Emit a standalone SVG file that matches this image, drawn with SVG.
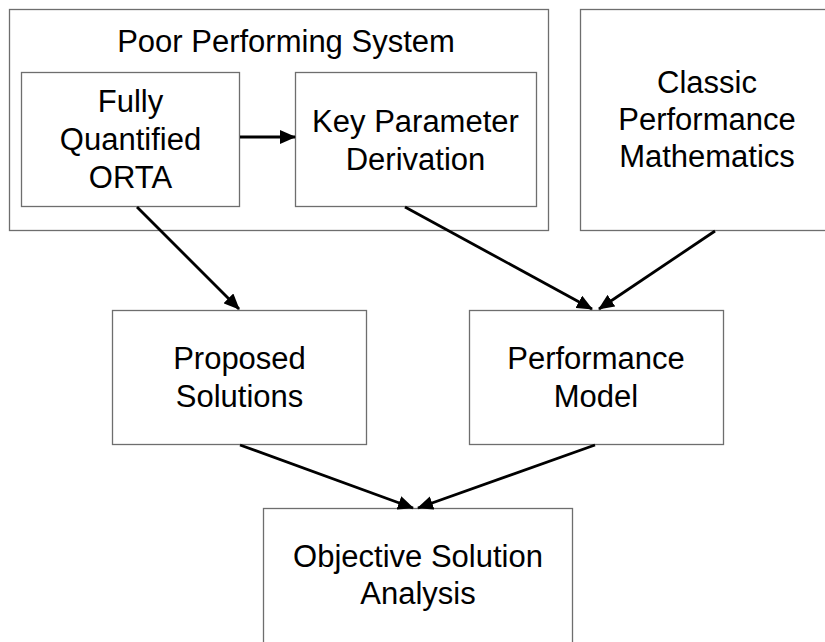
<svg xmlns="http://www.w3.org/2000/svg" width="825" height="642" viewBox="0 0 825 642">
  <style>
    .box { fill: #ffffff; stroke: #6e6e6e; stroke-width: 1.3; }
    .lbl { font-family: "Liberation Sans", Arial, sans-serif; font-size: 31px; fill: #000000; text-anchor: middle; }
    .conn { stroke: #000000; stroke-width: 2.8; fill: none; marker-end: url(#arrow); }
  </style>
  <defs>
    <marker id="arrow" viewBox="0 0 16 14" refX="15" refY="7" markerWidth="16" markerHeight="14" markerUnits="userSpaceOnUse" orient="auto">
      <path d="M0,0 L16,7 L0,14 z" fill="#000000"/>
    </marker>
  </defs>
  <rect width="825" height="642" fill="#ffffff"/>

  <g id="poor-performing-system">
    <rect class="box" x="9.5" y="9.5" width="539" height="221"/>
    <text class="lbl" x="286" y="52">Poor Performing System</text>
  </g>

  <g id="fully-quantified-orta">
    <rect class="box" x="21.5" y="72.5" width="218" height="134"/>
    <text class="lbl" x="130.5" y="112">Fully</text>
    <text class="lbl" x="130.5" y="150">Quantified</text>
    <text class="lbl" x="130.5" y="188">ORTA</text>
  </g>

  <g id="key-parameter-derivation">
    <rect class="box" x="295.5" y="72.5" width="241" height="134"/>
    <text class="lbl" x="415.5" y="132">Key Parameter</text>
    <text class="lbl" x="415.5" y="170">Derivation</text>
  </g>

  <g id="classic-performance-mathematics">
    <rect class="box" x="580.5" y="9.5" width="254" height="221"/>
    <text class="lbl" x="707" y="93">Classic</text>
    <text class="lbl" x="707" y="130">Performance</text>
    <text class="lbl" x="707" y="167">Mathematics</text>
  </g>

  <g id="proposed-solutions">
    <rect class="box" x="112.5" y="310.5" width="254" height="134"/>
    <text class="lbl" x="239.5" y="369">Proposed</text>
    <text class="lbl" x="239.5" y="407">Solutions</text>
  </g>

  <g id="performance-model">
    <rect class="box" x="469.5" y="310.5" width="254" height="134"/>
    <text class="lbl" x="596" y="369">Performance</text>
    <text class="lbl" x="596" y="407">Model</text>
  </g>

  <g id="objective-solution-analysis">
    <rect class="box" x="263.5" y="508.5" width="309" height="150"/>
    <text class="lbl" x="418" y="567">Objective Solution</text>
    <text class="lbl" x="418" y="604">Analysis</text>
  </g>

  <g id="connectors">
    <line class="conn" x1="240" y1="137" x2="295" y2="137"/>
    <line class="conn" x1="137" y1="207" x2="239" y2="309"/>
    <line class="conn" x1="405" y1="207" x2="592" y2="309"/>
    <line class="conn" x1="715" y1="231" x2="599" y2="309"/>
    <line class="conn" x1="240" y1="445" x2="413" y2="508"/>
    <line class="conn" x1="595" y1="445" x2="418" y2="508"/>
  </g>
</svg>
